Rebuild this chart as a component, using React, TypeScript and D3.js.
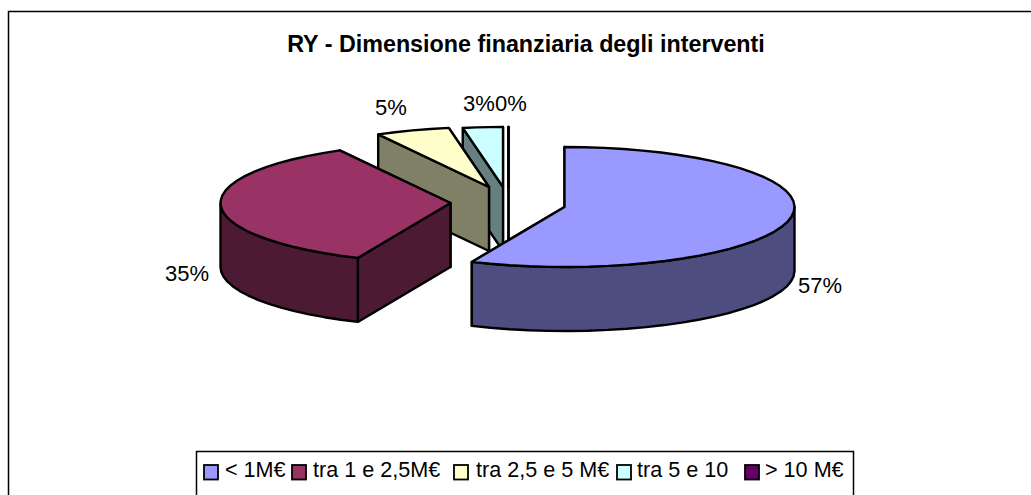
import React from "react";
import * as d3 from "d3";

const title = "RY - Dimensione finanziaria degli interventi";
const categories = ["< 1M€", "tra 1 e 2,5M€", "tra 2,5 e 5 M€", "tra 5 e 10", "> 10 M€"];
const values = [56.6, 35.4, 5.2, 2.8, 0];
const topColors = ["#9999FF", "#993366", "#FFFFCC", "#CCFFFF", "#660066"];
const sideColors = ["#4D4D80", "#4D1A33", "#808066", "#668080", "#330033"];

// layout
const W = 1031, H = 495;
const RX = 230, RY = 60, DEPTH = 64;
const centers: [number, number][] = [[564.5, 207], [450.5, 203], [489, 187], [503, 187], [508.5, 187]];
const labelPos: [number, number][] = [[798, 293], [165, 281], [375, 115], [463, 111], [495, 111]];
const legendSwatchX = [204, 292, 454, 617, 745];
const legendTextX = [225, 313, 476, 637, 765];
const FONT = "'Liberation Sans', Arial, sans-serif";

const scaleX = d3.scaleLinear().domain([-1, 1]).range([-RX, RX]);
const scaleY = d3.scaleLinear().domain([-1, 1]).range([-RY, RY]);
const pt = (a: number, cx: number, cy: number, dz = 0): [number, number] => [
  cx + scaleX(Math.sin(a)),
  cy + scaleY(-Math.cos(a)) + dz,
];
const line = d3.line();
const arcAngles = (a0: number, a1: number) => {
  const n = Math.max(1, Math.ceil((a1 - a0) / (Math.PI / 36)));
  return d3.range(n + 1).map((i) => a0 + ((a1 - a0) * i) / n);
};

export default function App() {
  const arcs = d3.pie<number>().sort(null)(values);
  const pct = d3.format(".0%");
  const stroke = { stroke: "#000", strokeWidth: 2.4, strokeLinejoin: "round" as const };
  const order = d3.range(values.length).reverse();
  return (
    <svg width={W} height={H} style={{ position: "absolute", left: 0, top: 0, background: "#fff" }}>
      <path d={`M8.5 ${H} V11.5 H${W}`} fill="none" stroke="#000" strokeWidth={1.5} />
      <text x={526} y={52} textAnchor="middle" fontFamily={FONT} fontWeight="bold" fontSize={23.3} fill="#000">
        {title}
      </text>
      {order.map((i) => {
        const { startAngle: a0, endAngle: a1 } = arcs[i];
        const [cx, cy] = centers[i];
        const apex: [number, number] = [cx, cy];
        const apexB: [number, number] = [cx, cy + DEPTH];
        const face = (a: number) =>
          line([apex, pt(a, cx, cy), pt(a, cx, cy, DEPTH), apexB]) + "Z";
        // only the lower half of the rim faces the viewer
        const w0 = Math.max(a0, Math.PI / 2);
        const w1 = Math.min(a1, (3 * Math.PI) / 2);
        const wall =
          w1 > w0
            ? line([
                ...arcAngles(w0, w1).map((a) => pt(a, cx, cy)),
                ...arcAngles(w0, w1).reverse().map((a) => pt(a, cx, cy, DEPTH)),
              ]) + "Z"
            : null;
        const top = line([apex, ...arcAngles(a0, a1).map((a) => pt(a, cx, cy))]) + "Z";
        return (
          <g key={i} {...stroke}>
            <path d={face(a1)} fill={sideColors[i]} />
            <path d={face(a0)} fill={sideColors[i]} />
            {wall && <path d={wall} fill={sideColors[i]} />}
            <path d={top} fill={topColors[i]} />
          </g>
        );
      })}
      {arcs.map((a, i) => (
        <text key={i} x={labelPos[i][0]} y={labelPos[i][1]} fontFamily={FONT} fontSize={22} fill="#000">
          {pct(a.data / 100)}
        </text>
      ))}
      <path d={`M196.5 ${H} V451.5 H853.5 V${H}`} fill="#fff" stroke="#000" strokeWidth={1.5} />
      {categories.map((c, i) => (
        <g key={c}>
          <rect x={legendSwatchX[i]} y={465} width={14} height={14.5} fill={topColors[i]} stroke="#000" strokeWidth={1.8} />
          <text x={legendTextX[i]} y={477} fontFamily={FONT} fontSize={21.6} fill="#000">
            {c}
          </text>
        </g>
      ))}
    </svg>
  );
}
